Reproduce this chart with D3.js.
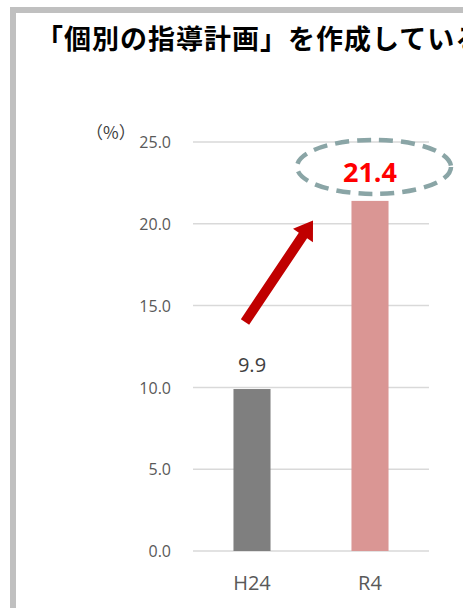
<!DOCTYPE html>
<html>
<head>
<meta charset="utf-8">
<script src="https://cdn.jsdelivr.net/npm/d3@7/dist/d3.min.js"></script>
<style>
  html, body { margin: 0; padding: 0; background: #fff; overflow: hidden; }
  svg { display: block; }
</style>
</head>
<body>
<svg id="chart" width="463" height="608"></svg>
<script>
// Share of schools that prepare individual instruction plans (%)
const titleText = "「個別の指導計画」を作成している";
const unitLabel = "（%）";
const categories = ["H24", "R4"];
const values = [9.9, 21.4];
const barColors = ["#7f7f7f", "#da9694"];
const yTicks = [0, 5, 10, 15, 20, 25];

const W = 463, H = 608;
const svg = d3.select("#chart");

svg.append("rect").attr("width", W).attr("height", H).attr("fill", "#fff");

// grey panel frame (runs off the right and bottom edges)
svg.append("rect")
  .attr("x", 13).attr("y", 10)
  .attr("width", 600).attr("height", 700)
  .attr("fill", "none")
  .attr("stroke", "#c0c0c0")
  .attr("stroke-width", 6);

svg.append("text")
  .attr("x", 36).attr("y", 49)
  .attr("font-family", "'Noto Sans CJK JP', sans-serif")
  .attr("font-weight", "bold")
  .attr("font-size", 27)
  .attr("letter-spacing", 1)
  .attr("fill", "#000")
  .text(titleText);

const plot = { left: 193, right: 429, top: 142, bottom: 551 };

const y = d3.scaleLinear().domain([0, 25]).range([plot.bottom, plot.top]);
const x = d3.scaleBand().domain(categories)
  .range([plot.left, plot.right])
  .paddingInner(0.686).paddingOuter(0.343);

// gridlines
svg.append("g")
  .selectAll("line")
  .data(yTicks)
  .join("line")
  .attr("x1", plot.left).attr("x2", plot.right)
  .attr("y1", d => y(d)).attr("y2", d => y(d))
  .attr("stroke", "#d9d9d9")
  .attr("stroke-width", 1.5);

// y axis labels
const yAxis = d3.axisLeft(y).tickValues(yTicks).tickFormat(d3.format(".1f")).tickSize(0).tickPadding(0);
const gy = svg.append("g").attr("transform", "translate(171,0)").call(yAxis);
gy.select(".domain").remove();
gy.selectAll("text")
  .attr("font-family", "'Open Sans', sans-serif")
  .attr("font-size", 16)
  .attr("dy", "0.36em")
  .attr("fill", "#595959");

svg.append("text")
  .attr("x", 86).attr("y", 139)
  .attr("font-family", "'Noto Sans CJK JP', sans-serif")
  .attr("font-size", 17)
  .attr("fill", "#404040")
  .text(unitLabel);

// bars
svg.append("g")
  .selectAll("rect")
  .data(values)
  .join("rect")
  .attr("x", (d, i) => x(categories[i]))
  .attr("y", d => y(d))
  .attr("width", x.bandwidth())
  .attr("height", d => y(0) - y(d))
  .attr("fill", (d, i) => barColors[i]);

// x axis labels
const xAxis = d3.axisBottom(x).tickSize(0).tickPadding(0);
const gx = svg.append("g").attr("transform", `translate(0,${plot.bottom + 25})`).call(xAxis);
gx.select(".domain").remove();
gx.selectAll("text")
  .attr("font-family", "'Open Sans', sans-serif")
  .attr("font-size", 20)
  .attr("fill", "#595959");

const cx = c => x(c) + x.bandwidth() / 2;

// value label for the first bar
svg.append("text")
  .attr("x", cx(categories[0]))
  .attr("y", y(values[0]) - 17)
  .attr("text-anchor", "middle")
  .attr("font-family", "'Open Sans', sans-serif")
  .attr("font-size", 20)
  .attr("fill", "#404040")
  .text(values[0].toFixed(1));

// highlighted value label for the latest bar, circled
const hx = cx(categories[1]);
svg.append("ellipse")
  .attr("cx", hx + 4)
  .attr("cy", y(values[1]) - 34)
  .attr("rx", 77).attr("ry", 27)
  .attr("fill", "none")
  .attr("stroke", "#8aa5a6")
  .attr("stroke-width", 4.5)
  .attr("stroke-dasharray", "14 8");

svg.append("text")
  .attr("x", hx)
  .attr("y", y(values[1]) - 19)
  .attr("text-anchor", "middle")
  .attr("font-family", "'Open Sans', sans-serif")
  .attr("font-weight", "bold")
  .attr("font-size", 27)
  .attr("fill", "#ff0000")
  .text(values[1].toFixed(1));

// rising arrow between the two bars
const p0 = [cx(categories[0]) - 7, y(14.0)];
const p1 = [hx - 57, y(20.2)];
const dx = p1[0] - p0[0], dy = p1[1] - p0[1];
const len = Math.hypot(dx, dy);
const ux = dx / len, uy = dy / len, nx = -uy, ny = ux;
const shaftW = 10, headW = 24, headL = 18;
const bx = p1[0] - ux * headL, by = p1[1] - uy * headL;
const pts = [
  [p0[0] + nx * shaftW / 2, p0[1] + ny * shaftW / 2],
  [bx + nx * shaftW / 2, by + ny * shaftW / 2],
  [bx + nx * headW / 2, by + ny * headW / 2],
  p1,
  [bx - nx * headW / 2, by - ny * headW / 2],
  [bx - nx * shaftW / 2, by - ny * shaftW / 2],
  [p0[0] - nx * shaftW / 2, p0[1] - ny * shaftW / 2]
];
svg.append("path")
  .attr("d", d3.line()(pts) + "Z")
  .attr("fill", "#c00000");
</script>
</body>
</html>
